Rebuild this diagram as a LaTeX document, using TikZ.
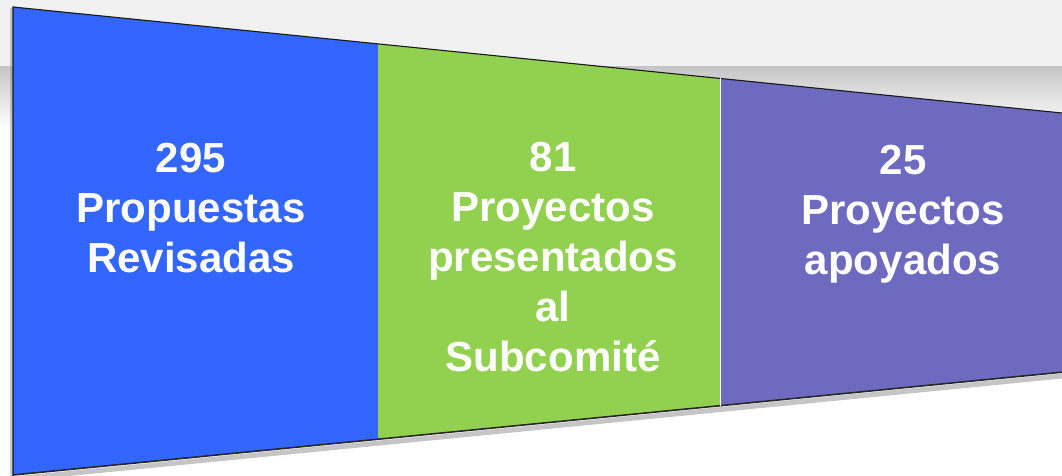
\documentclass[tikz,border=0pt]{standalone}
\usepackage{fontspec}
\setmainfont{Liberation Sans}
\definecolor{fblue}{HTML}{3366FF}
\definecolor{fgreen}{HTML}{92D050}
\definecolor{fpurple}{HTML}{6D6ABF}
\definecolor{bandlight}{HTML}{F1F1F1}
\definecolor{banddark}{HTML}{C6C6C6}

\begin{document}
\begin{tikzpicture}[x=1pt,y=-1pt,
	paneltext/.style={text=white,align=center,anchor=north,inner sep=0pt,
		font=\fontsize{42}{50}\selectfont\bfseries}]
		\useasboundingbox (0,0) rectangle (1062,476);
		\fill[bandlight] (0,0) rectangle (1062,67);
		\shade[top color=banddark,bottom color=white] (0,67) rectangle (1062,128);
		\fill[black!50,opacity=0.4] (10,8) rectangle (13,476);
		\draw[black!45,line width=5pt,opacity=0.5] (13,479) -- (1062,376);
		\fill[fblue] (13,7) -- (378,43.9) -- (378,439.2) -- (13,475) -- cycle;
		\fill[fgreen] (378,43.9) -- (720,78.4) -- (720,405.7) -- (378,439.2) -- cycle;
		\fill[fpurple] (720,78.4) -- (1062,113) -- (1062,372.2) -- (720,405.7) -- cycle;
		\draw[black!90,line width=1.1pt] (13,476) -- (13,7) -- (1062,113);
		\draw[black!85,line width=1.6pt] (13,475) -- (1062,372.2);
		\draw[white,line width=0.8pt] (720,78.4) -- (720,405.7);
		\node[paneltext] (propuestas) at (191,143){295\\Propuestas\\Revisadas};
		\node[paneltext] (presentados) at (553,142){81\\Proyectos\\presentados\\al\\Subcomité};
		\node[paneltext] (apoyados) at (903,145){25\\Proyectos\\apoyados};
	\end{tikzpicture}
\end{document}
